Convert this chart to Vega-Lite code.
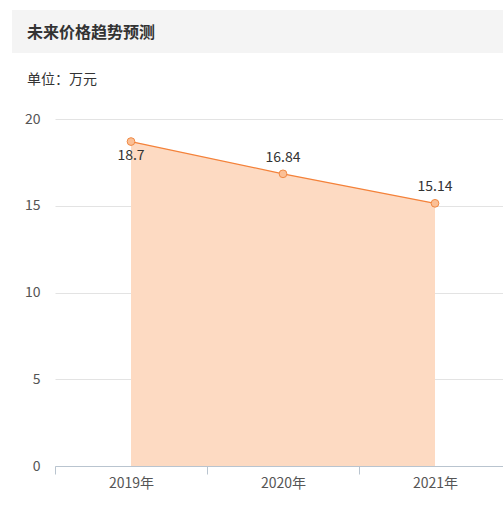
{
  "$schema": "https://vega.github.io/schema/vega-lite/v6.json",
  "padding": {"left": 12, "top": 10, "right": 0, "bottom": 0},
  "background": "white",
  "config": {
    "font": "Noto Sans CJK SC",
    "view": {"stroke": null}
  },
  "spacing": -28,
  "vconcat": [
    {
      "width": 491,
      "height": 43,
      "view": {"fill": "#f4f4f4", "stroke": null},
      "data": {"values": []},
      "mark": "point"
    },
    {
      "width": 499,
      "height": 347,
      "title": {
        "text": "未来价格趋势预测",
        "subtitle": "单位：万元",
        "anchor": "start",
        "frame": "group",
        "offset": 25,
        "dx": 15,
        "fontSize": 16,
        "fontWeight": "bold",
        "color": "#333333",
        "subtitleFontSize": 14,
        "subtitleColor": "#333333",
        "subtitlePadding": 32
      },
      "data": {
        "values": [
          {"year": "2019年", "price": 18.7},
          {"year": "2020年", "price": 16.84},
          {"year": "2021年", "price": 15.14}
        ]
      },
      "encoding": {
        "x": {
          "field": "year",
          "type": "ordinal",
          "sort": null,
          "scale": {"paddingInner": 0, "paddingOuter": 0, "range": [43, 499]},
          "axis": {
            "title": null,
            "labelAngle": 0,
            "tickBand": "extent",
            "domainColor": "#b9c4cf",
            "tickColor": "#b9c4cf",
            "tickSize": 8,
            "labelFontSize": 14,
            "labelColor": "#555555",
            "labelPadding": 2,
            "grid": false
          }
        },
        "y": {
          "field": "price",
          "type": "quantitative",
          "scale": {"domain": [0, 20]},
          "axis": {
            "title": null,
            "offset": -43,
            "values": [0, 5, 10, 15, 20],
            "domain": false,
            "ticks": false,
            "labelPadding": 15,
            "labelFontSize": 14,
            "labelColor": "#555555",
            "gridColor": "#e3e3e3"
          }
        }
      },
      "layer": [
        {"mark": {"type": "area", "color": "#fddac2", "opacity": 1}},
        {"mark": {"type": "line", "color": "#f4823a", "strokeWidth": 1.2}},
        {
          "mark": {
            "type": "point",
            "filled": true,
            "fill": "#fbbf95",
            "stroke": "#f08a45",
            "strokeWidth": 1,
            "opacity": 1,
            "size": 60
          }
        },
        {
          "transform": [{"filter": "datum.year == '2019年'"}],
          "mark": {"type": "text", "dy": 14, "fontSize": 14, "color": "#333333"},
          "encoding": {"text": {"field": "price", "type": "quantitative"}}
        },
        {
          "transform": [{"filter": "datum.year != '2019年'"}],
          "mark": {"type": "text", "dy": -16, "fontSize": 14, "color": "#333333"},
          "encoding": {"text": {"field": "price", "type": "quantitative"}}
        }
      ]
    }
  ]
}
